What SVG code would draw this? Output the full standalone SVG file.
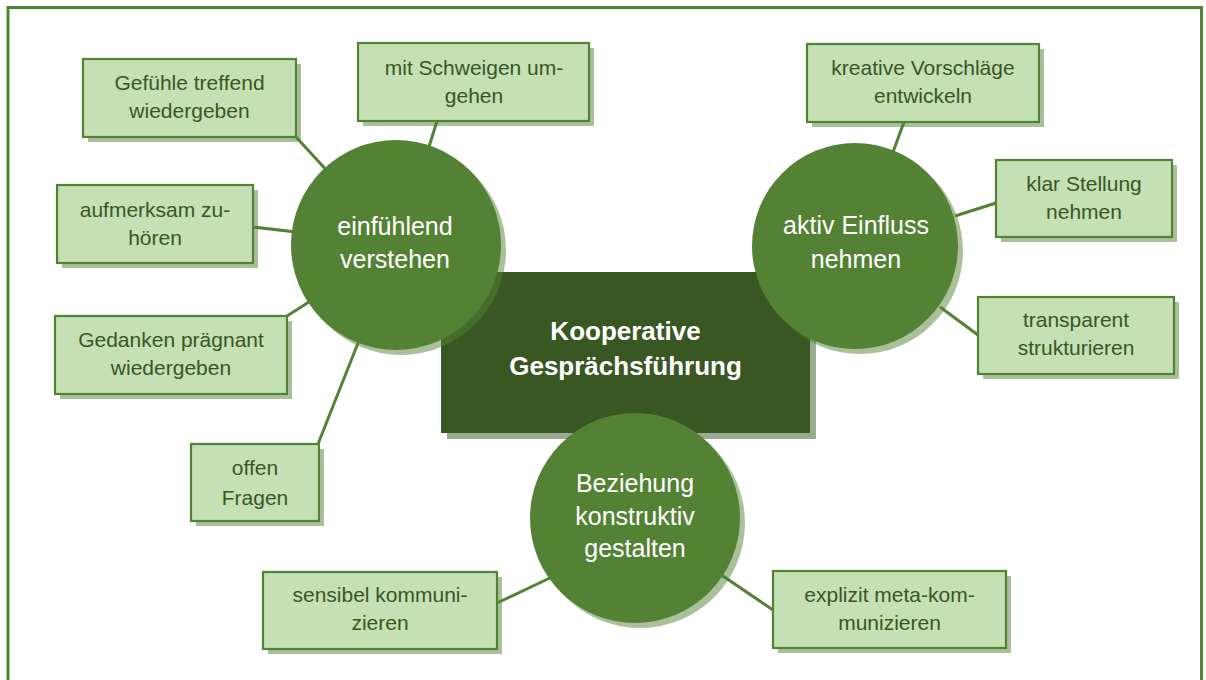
<svg xmlns="http://www.w3.org/2000/svg" width="1206" height="680" viewBox="0 0 1206 680">
  <style>
    .frame { fill: none; stroke: #548235; stroke-width: 3; }
    .link { stroke: #548235; stroke-width: 3; fill: none; }
    .leaf { fill: #c5e0b4; stroke: #548235; stroke-width: 2.2; }
    .leaf-shadow { fill: #548235; fill-opacity: 0.5; }
    .hub { fill: #548235; }
    .hub-shadow { fill: #548235; fill-opacity: 0.5; }
    .core { fill: #385723; }
    .core-shadow { fill: #385723; fill-opacity: 0.5; }
    .leaf-text { font-family: "Liberation Sans", Arial, sans-serif; font-size: 21px; fill: #385723; text-anchor: middle; }
    .hub-text { font-family: "Liberation Sans", Arial, sans-serif; font-size: 25px; fill: #ffffff; text-anchor: middle; }
    .core-text { font-family: "Liberation Sans", Arial, sans-serif; font-size: 26px; font-weight: bold; fill: #ffffff; text-anchor: middle; }
  </style>

  <rect class="frame" x="8" y="7.5" width="1193.5" height="700"/>

  <!-- connectors -->
  <g id="connectors">
    <line class="link" x1="296" y1="137" x2="330" y2="174"/>
    <line class="link" x1="437" y1="121" x2="428" y2="150"/>
    <line class="link" x1="253" y1="227" x2="296" y2="232"/>
    <line class="link" x1="287" y1="316" x2="312" y2="300"/>
    <line class="link" x1="318" y1="444" x2="360" y2="338"/>
    <line class="link" x1="904" y1="122" x2="893" y2="152"/>
    <line class="link" x1="996" y1="203" x2="955" y2="216"/>
    <line class="link" x1="978" y1="335" x2="940" y2="307"/>
    <line class="link" x1="497" y1="603" x2="552" y2="577"/>
    <line class="link" x1="773" y1="610" x2="720" y2="574"/>
  </g>

  <!-- central topic -->
  <g id="core">
    <rect class="core-shadow" x="447" y="278" width="369" height="161"/>
    <rect class="core" x="441" y="272" width="369" height="161"/>
    <text class="core-text" x="625.5" y="340">Kooperative</text>
    <text class="core-text" x="625.5" y="375">Gesprächsführung</text>
  </g>

  <!-- main branches -->
  <g id="hub-verstehen">
    <circle class="hub-shadow" cx="401" cy="250" r="105"/>
    <circle class="hub" cx="396" cy="245" r="105"/>
    <text class="hub-text" x="395" y="235">einfühlend</text>
    <text class="hub-text" x="395" y="268">verstehen</text>
  </g>

  <g id="hub-einfluss">
    <circle class="hub-shadow" cx="860" cy="251" r="103"/>
    <circle class="hub" cx="855" cy="246" r="103"/>
    <text class="hub-text" x="856" y="234">aktiv Einfluss</text>
    <text class="hub-text" x="856" y="268">nehmen</text>
  </g>

  <g id="hub-beziehung">
    <circle class="hub-shadow" cx="640" cy="523" r="105"/>
    <circle class="hub" cx="635" cy="518" r="105"/>
    <text class="hub-text" x="635" y="492">Beziehung</text>
    <text class="hub-text" x="635" y="525">konstruktiv</text>
    <text class="hub-text" x="635" y="557">gestalten</text>
  </g>

  <!-- leaf items -->
  <g id="leaf-gefuehle">
    <rect class="leaf-shadow" x="88" y="64" width="213" height="78"/>
    <rect class="leaf" x="83" y="59" width="213" height="78"/>
    <text class="leaf-text" x="189.5" y="90">Gefühle treffend</text>
    <text class="leaf-text" x="189.5" y="118">wiedergeben</text>
  </g>

  <g id="leaf-zuhoeren">
    <rect class="leaf-shadow" x="62" y="190" width="196" height="78"/>
    <rect class="leaf" x="57" y="185" width="196" height="78"/>
    <text class="leaf-text" x="155" y="217">aufmerksam zu-</text>
    <text class="leaf-text" x="155" y="245">hören</text>
  </g>

  <g id="leaf-gedanken">
    <rect class="leaf-shadow" x="60" y="321" width="232" height="78"/>
    <rect class="leaf" x="55" y="316" width="232" height="78"/>
    <text class="leaf-text" x="171" y="347">Gedanken prägnant</text>
    <text class="leaf-text" x="171" y="375">wiedergeben</text>
  </g>

  <g id="leaf-fragen">
    <rect class="leaf-shadow" x="196" y="449" width="128" height="77"/>
    <rect class="leaf" x="191" y="444" width="128" height="77"/>
    <text class="leaf-text" x="255" y="475">offen</text>
    <text class="leaf-text" x="255" y="505">Fragen</text>
  </g>

  <g id="leaf-schweigen">
    <rect class="leaf-shadow" x="363" y="48" width="231" height="78"/>
    <rect class="leaf" x="358" y="43" width="231" height="78"/>
    <text class="leaf-text" x="474" y="75">mit Schweigen um-</text>
    <text class="leaf-text" x="474" y="103">gehen</text>
  </g>

  <g id="leaf-vorschlaege">
    <rect class="leaf-shadow" x="812" y="49" width="232" height="78"/>
    <rect class="leaf" x="807" y="44" width="232" height="78"/>
    <text class="leaf-text" x="923" y="75">kreative Vorschläge</text>
    <text class="leaf-text" x="923" y="103">entwickeln</text>
  </g>

  <g id="leaf-stellung">
    <rect class="leaf-shadow" x="1001" y="165" width="176" height="77"/>
    <rect class="leaf" x="996" y="160" width="176" height="77"/>
    <text class="leaf-text" x="1084" y="191">klar Stellung</text>
    <text class="leaf-text" x="1084" y="219">nehmen</text>
  </g>

  <g id="leaf-strukturieren">
    <rect class="leaf-shadow" x="983" y="302" width="196" height="77"/>
    <rect class="leaf" x="978" y="297" width="196" height="77"/>
    <text class="leaf-text" x="1076" y="327">transparent</text>
    <text class="leaf-text" x="1076" y="355">strukturieren</text>
  </g>

  <g id="leaf-sensibel">
    <rect class="leaf-shadow" x="268" y="577" width="234" height="77"/>
    <rect class="leaf" x="263" y="572" width="234" height="77"/>
    <text class="leaf-text" x="380" y="602">sensibel kommuni-</text>
    <text class="leaf-text" x="380" y="630">zieren</text>
  </g>

  <g id="leaf-meta">
    <rect class="leaf-shadow" x="778" y="576" width="233" height="77"/>
    <rect class="leaf" x="773" y="571" width="233" height="77"/>
    <text class="leaf-text" x="889.5" y="602">explizit meta-kom-</text>
    <text class="leaf-text" x="889.5" y="630">munizieren</text>
  </g>
</svg>
